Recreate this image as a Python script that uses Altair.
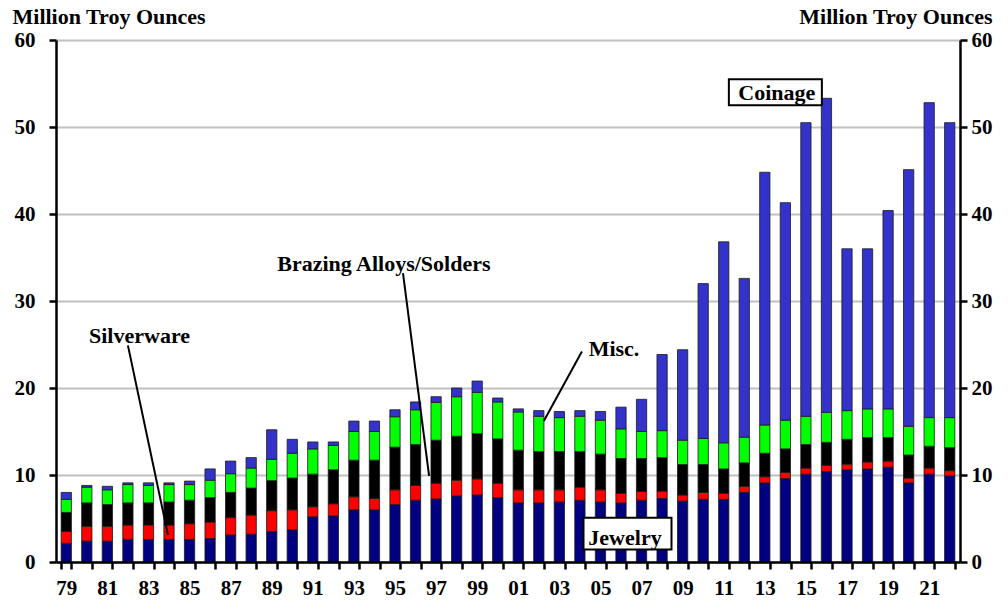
import altair as alt
import pandas as pd

years = list(range(1979, 2023))
categories = ["Jewelry", "Silverware", "Brazing Alloys/Solders", "Misc.", "Coinage"]
colors = ["#000080", "#ff0000", "#000000", "#00ff00", "#3333cc"]

jewelry = [2.15, 2.4, 2.4, 2.6, 2.6, 2.6, 2.6, 2.7, 3.1, 3.2,
           3.5, 3.7, 5.2, 5.3, 6.0, 6.0, 6.6, 7.1, 7.25, 7.6,
           7.7, 7.4, 6.8, 6.8, 6.9, 7.1, 6.9, 6.8, 7.1, 7.3,
           7.0, 7.2, 7.2, 8.0, 9.1, 9.6, 10.1, 10.4, 10.6, 10.7,
           10.9, 9.1, 10.1, 9.9]
silverware = [1.35, 1.7, 1.7, 1.65, 1.65, 1.65, 1.8, 1.9, 2.0, 2.2,
              2.4, 2.3, 1.15, 1.4, 1.5, 1.3, 1.7, 1.7, 1.8, 1.8,
              1.85, 1.65, 1.5, 1.5, 1.4, 1.5, 1.4, 1.1, 1.0, 0.85,
              0.7, 0.8, 0.7, 0.7, 0.7, 0.7, 0.7, 0.7, 0.65, 0.8,
              0.7, 0.55, 0.7, 0.6]
brazing = [2.2, 2.7, 2.5, 2.55, 2.55, 2.65, 2.7, 2.8, 2.9, 3.1,
           3.45, 3.65, 3.75, 3.9, 4.2, 4.4, 4.9, 4.7, 4.95, 5.05,
           5.2, 5.1, 4.55, 4.4, 4.4, 4.1, 4.1, 4.0, 3.8, 3.85,
           3.5, 3.2, 2.8, 2.7, 2.7, 2.7, 2.7, 2.65, 2.85, 2.8,
           2.7, 2.65, 2.5, 2.65]
misc = [1.5, 1.8, 1.7, 2.1, 2.0, 2.0, 1.8, 2.0, 2.15, 2.3,
        2.45, 2.85, 2.9, 2.8, 3.3, 3.3, 3.5, 4.0, 4.35, 4.55,
        4.75, 4.25, 4.4, 4.05, 3.9, 4.05, 3.9, 3.4, 3.1, 3.1,
        2.8, 3.0, 3.0, 2.95, 3.25, 3.3, 3.25, 3.45, 3.3, 3.3,
        3.3, 3.3, 3.3, 3.45]
coinage = [0.8, 0.2, 0.4, 0.2, 0.3, 0.2, 0.4, 1.3, 1.45, 1.2,
           3.4, 1.6, 0.8, 0.4, 1.2, 1.2, 0.8, 0.9, 0.65, 1.0,
           1.3, 0.45, 0.35, 0.65, 0.7, 0.65, 1.0, 2.5, 3.7, 8.75,
           10.4, 17.8, 23.1, 18.25, 29.05, 25.0, 33.75, 36.1, 18.6, 18.4,
           22.8, 29.5, 36.2, 33.9]

series = [jewelry, silverware, brazing, misc, coinage]
rows = []
for i, yr in enumerate(years):
    for k, (cat, vals) in enumerate(zip(categories, series)):
        rows.append({"year": yr, "category": cat, "value": vals[i], "ord": k})
df = pd.DataFrame(rows)

FONT = "Liberation Serif"
yscale = alt.Scale(domain=[0, 60], nice=False)
xscale = alt.Scale(paddingInner=0.5, paddingOuter=0.25)
yticks = [0, 10, 20, 30, 40, 50, 60]

x_axis = alt.Axis(
    title=None, labelAngle=0, labelOverlap=False,
    labelExpr="datum.value % 2 == 1 ? substring(toString(datum.value), 2, 4) : ''",
    labelFont=FONT, labelFontSize=21, labelFontWeight="bold", labelColor="black",
    labelPadding=8, tickBand="extent", tickSize=7, tickWidth=2.5, tickColor="black",
    domainColor="black", domainWidth=2.5, zindex=1,
)
left_axis = alt.Axis(
    orient="left", values=yticks, title="Million Troy Ounces",
    titleAngle=0, titleAlign="left", titleBaseline="alphabetic", titleX=-44, titleY=-17,
    titleFont=FONT, titleFontSize=22, titleFontWeight="bold", titleColor="black",
    labelFont=FONT, labelFontSize=21, labelFontWeight="bold", labelColor="black",
    labelPadding=14, tickSize=7, tickWidth=2.5, tickColor="black",
    domainColor="black", domainWidth=2.5,
    grid=True, gridColor="#c0c0c0", gridWidth=2,
)
right_axis = alt.Axis(
    orient="right", values=yticks, title="Million Troy Ounces",
    titleAngle=0, titleAlign="right", titleBaseline="alphabetic", titleX=32, titleY=-17,
    titleFont=FONT, titleFontSize=22, titleFontWeight="bold", titleColor="black",
    labelFont=FONT, labelFontSize=21, labelFontWeight="bold", labelColor="black",
    labelPadding=4, tickSize=7, tickWidth=2.5, tickColor="black",
    domainColor="black", domainWidth=2.5, grid=False,
)

X = alt.X("year:O", scale=xscale, axis=x_axis)

bars = alt.Chart(df).mark_bar(stroke="#1a1a1a", strokeWidth=0.8).encode(
    x=X,
    y=alt.Y("value:Q", stack="zero", scale=yscale, axis=left_axis),
    color=alt.Color("category:N", scale=alt.Scale(domain=categories, range=colors), legend=None),
    order=alt.Order("ord:Q", sort="ascending"),
)

layers = [bars]

# leader lines: (from year, from value, to year, to value, px offset from, px offset to)
leaders = [
    (1982, 24.9, 1984, 3.1, 0, -1),
    (1995, 33.2, 1997, 9.9, 8, -7),
    (2004, 24.2, 2002, 16.2, 2, 5),
]
for y1, v1, y2, v2, o1, o2 in leaders:
    d = pd.DataFrame({"year": [y1], "year2": [y2], "v": [v1], "v2": [v2]})
    layers.append(
        alt.Chart(d).mark_rule(color="black", strokeWidth=2, xOffset=o1, x2Offset=o2).encode(
            x=X, x2="year2:O", y=alt.Y("v:Q", scale=yscale, axis=left_axis), y2="v2:Q"
        )
    )

# boxes for boxed labels: (year, top, bottom, width, offset)
boxes = [
    (2014, 55.5, 52.5, 93, -10),
    (2006, 5.1, 1.45, 88, 6.5),
]
for yr, top, bot, w, off in boxes:
    d = pd.DataFrame({"year": [yr], "top": [top], "bot": [bot]})
    layers.append(
        alt.Chart(d).mark_bar(fill="white", stroke="black", strokeWidth=2, width=w, xOffset=off).encode(
            x=X, y=alt.Y("top:Q", scale=yscale, axis=left_axis), y2="bot:Q"
        )
    )

# text labels: (label, year, value, dx)
labels = [
    ("Silverware", 1982, 25.2, 11.6),
    ("Brazing Alloys/Solders", 1994, 33.5, 9.4),
    ("Misc.", 2006, 23.7, -7),
    ("Coinage", 2014, 53.1, -8.6),
    ("Jewelry", 2006, 2.0, 4),
]
for lab, yr, v, dx in labels:
    d = pd.DataFrame({"year": [yr], "v": [v], "label": [lab]})
    layers.append(
        alt.Chart(d).mark_text(
            font=FONT, fontSize=22, fontWeight="bold", color="black",
            align="center", baseline="alphabetic", dx=dx,
        ).encode(x=X, y=alt.Y("v:Q", scale=yscale, axis=left_axis), text="label:N")
    )

main = alt.layer(*layers)

right = alt.Chart(pd.DataFrame({"v": [0, 60]})).mark_point(opacity=0).encode(
    y=alt.Y("v:Q", scale=yscale, axis=right_axis)
)

chart = alt.layer(main, right).resolve_scale(y="independent").properties(
    width=904, height=522,
    autosize=alt.AutoSizeParams(type="none"),
    padding={"left": 48, "top": 32, "right": 40, "bottom": 40},
).configure_view(stroke="transparent").configure(background="white")

chart.save("out.html", embed_options={"renderer": "svg", "actions": False})
